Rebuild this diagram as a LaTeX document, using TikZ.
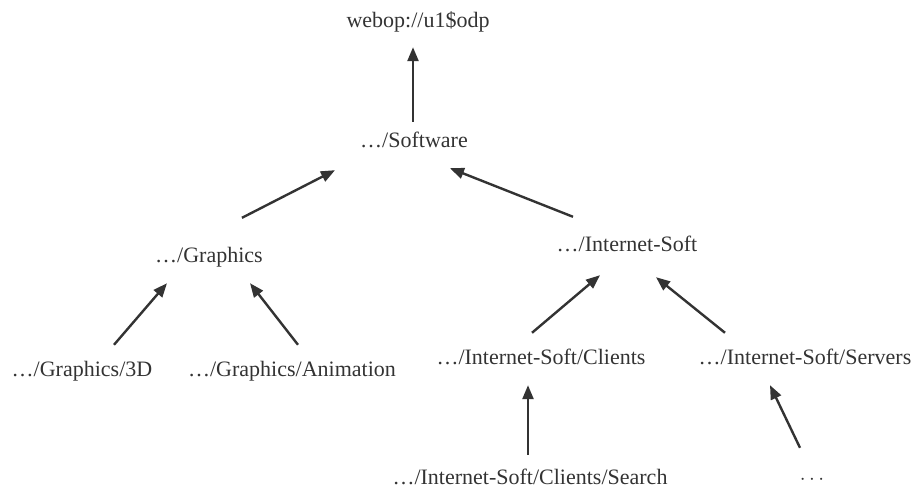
\documentclass[tikz,border=0pt]{standalone}
\usepackage{fontspec}
\setmainfont{Liberation Serif}
\usetikzlibrary{arrows.meta}
\definecolor{inkgray}{HTML}{333333}

\begin{document}
\begin{tikzpicture}[x=1pt, y=1pt,
    lbl/.style={inner sep=0pt, anchor=base, text=inkgray, text height=16pt, text depth=5pt,
        font=\fontsize{22}{26}\selectfont},
    arr/.style={draw=inkgray, line width=2.4pt, -{Triangle[length=14pt,width=11pt]}}]
    \useasboundingbox (0,0) rectangle (916,489);
    % Nodes, top to bottom
    \node[lbl] (root) at (418,461) {webop://u1\$odp};
    \node[lbl] (sw) at (414,341) {\ldots/Software};
    \node[lbl] (gr) at (209,226) {\ldots/Graphics};
    \node[lbl] (is) at (627,237) {\ldots/Internet-Soft};
    \node[lbl] (g3d) at (82,112) {\ldots/Graphics/3D};
    \node[lbl] (ganim) at (292,112) {\ldots/Graphics/Animation};
    \node[lbl] (cl) at (541,124) {\ldots/Internet-Soft/Clients};
    \node[lbl] (sv) at (805,124) {\ldots/Internet-Soft/Servers};
    \node[lbl] (srch) at (530,4) {\ldots/Internet-Soft/Clients/Search};
    \node[lbl] (more) at (812,4) {$\cdots$};

    % Arrows from child to parent
    \draw[arr] ([shift={(-1,10)}]sw.north) -- ([shift={(-5,-14)}]root.south);
    \draw[arr] ([shift={(33,29)}]gr.north) -- ([shift={(-79,-17)}]sw.south);
    \draw[arr] ([shift={(-54,19)}]is.north) -- ([shift={(36,-15)}]sw.south);
    \draw[arr] ([shift={(32,16)}]g3d.north) -- ([shift={(-42,-15)}]gr.south);
    \draw[arr] ([shift={(6,16)}]ganim.north) -- ([shift={(41,-15)}]gr.south);
    \draw[arr] ([shift={(-9,16)}]cl.north) -- ([shift={(-27,-18)}]is.south);
    \draw[arr] ([shift={(-80,16)}]sv.north) -- ([shift={(29,-20)}]is.south);
    \draw[arr] ([shift={(-2,14)}]srch.north) -- ([shift={(-13,-15)}]cl.south);
    \draw[arr] ([shift={(-12,21)}]more.north) -- ([shift={(-35,-15)}]sv.south);
\end{tikzpicture}
\end{document}
